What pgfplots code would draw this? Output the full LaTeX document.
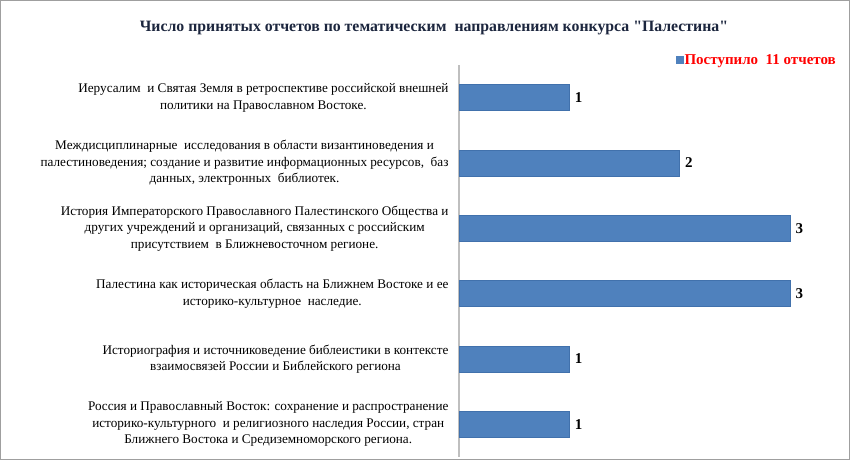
\documentclass[border=0pt]{standalone}
\usepackage{pgfplots}
\pgfplotsset{compat=1.18}
\usepackage{fontspec}
\setmainfont{Liberation Serif}
\newfontfamily\titlefont{Liberation Serif}
\definecolor{barblue}{RGB}{79,129,189}
\definecolor{baredge}{RGB}{65,113,172}
\definecolor{titlenavy}{RGB}{28,38,62}
\begin{document}
\begin{tikzpicture}
\useasboundingbox (0,0) rectangle (850pt,460pt);
\fill[white] (0,0) rectangle (850pt,460pt);
\draw[gray!75, line width=1pt] (0.5pt,0.5pt) rectangle (849.5pt,459.5pt);
\node[font=\titlefont\bfseries\fontsize{15.8}{18}\selectfont, text=titlenavy] at (434pt,432pt)
  {Число принятых отчетов\ по тематическим\ \ направлениям конкурса "Палестина"};
\begin{axis}[
  at={(459pt,3pt)}, anchor=south west,
  scale only axis, width=331pt, height=392pt,
  xmin=0, xmax=3, ymin=-0.5, ymax=5.5,
  y dir=reverse,
  axis x line=none,
  axis y line*=left,
  axis line style={-, draw=black!25, line width=1.2pt},
  ytick={0,...,5},
  major tick length=0pt,
  yticklabels={
    {Иерусалим\ \ и Святая Земля в ретроспективе российской внешней\\политики на Православном Востоке.},
    {Междисциплинарные\ \ исследования в области византиноведения и\\палестиноведения; создание и развитие информационных ресурсов,\ \ баз\\данных,\ электронных\ \ библиотек.},
    {История Императорского Православного Палестинского Общества и\\других учреждений и организаций, связанных с российским\\присутствием\ \ в Ближневосточном регионе.},
    {Палестина\ как историческая область на Ближнем Востоке и ее\\историко-культурное\ \ наследие.},
    {Историография и источниковедение библеистики в контексте\\взаимосвязей России и Библейского региона},
    {Россия и Православный Восток: сохранение и распространение\\историко-культурного\ \ и религиозного наследия России, стран\\Ближнего Востока и Средиземноморского региона.}
  },
  yticklabel style={align=center, font=\fontsize{13.2}{16.5}\selectfont, xshift=-7pt},
  xbar, bar width=26pt, bar shift=0pt,
  clip=false,
  nodes near coords,
  /pgf/number format/assume math mode=true,
  nodes near coords style={font=\bfseries\fontsize{15}{15}\selectfont, black, xshift=2pt},
  legend style={at={(1.142,1.013)}, anchor=east, draw=none, fill=none,
    font=\bfseries\fontsize{15}{17}\selectfont, text=red,
    inner sep=0pt, nodes={inner sep=1pt}},
  legend image code/.code={\fill[barblue] (0pt,-3.5pt) rectangle (7pt,3.5pt);},
]
\addplot[fill=barblue, draw=baredge] coordinates {
(1,0) (2,1) (3,2) (3,3) (1,4) (1,5)
};
\addlegendentry{Поступило\ \ 11 отчетов}
\end{axis}
\end{tikzpicture}
\end{document}
